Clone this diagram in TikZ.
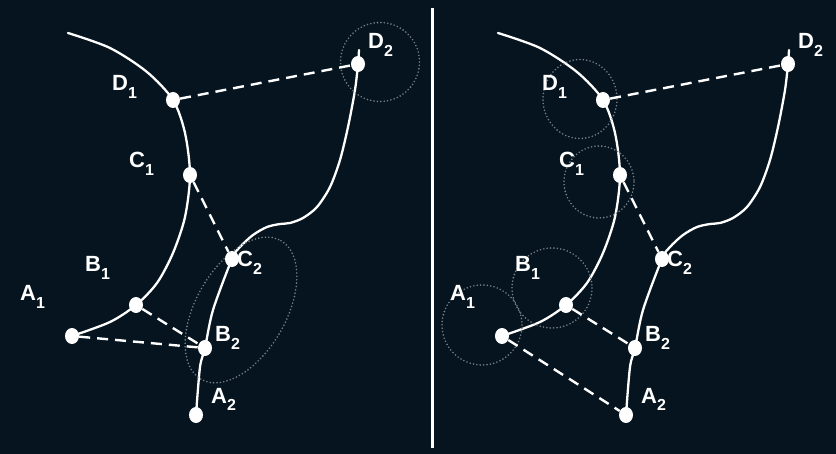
\documentclass[tikz,border=0pt]{standalone}
\usepackage{fontspec}
\setmainfont{Liberation Sans}
\usetikzlibrary{shapes.geometric}
\definecolor{bgcol}{HTML}{05141E}
\definecolor{ringcol}{HTML}{737E88}
\pgfdeclarelayer{back}
\pgfdeclarelayer{under}
\pgfsetlayers{back,under,main}
\tikzset{
  curve/.style={white, line width=2.3pt, line cap=round},
  link/.style={white, line width=2.4pt, dash pattern=on 11pt off 7pt},
  dot/.style={ellipse, fill=white, minimum width=14pt, minimum height=16pt, inner sep=0pt},
  halo/.style={draw=ringcol, line width=1.8pt, line cap=round, dash pattern=on 0pt off 3.4pt},
  lab/.style={text=white, font=\fontsize{22}{24}\selectfont\bfseries, anchor=base west, inner sep=0pt}
}
\newcommand\sub[1]{\raisebox{-7.5pt}{\fontsize{16}{16}\selectfont\bfseries #1}}
\newcommand\panel{%
  \node[dot] (A1) at (72,336) {};
  \node[dot] (B1) at (136,305) {};
  \node[dot] (C1) at (190,175) {};
  \node[dot] (D1) at (173,100) {};
  \node[dot] (A2) at (196,415) {};
  \node[dot] (B2) at (205,348) {};
  \node[dot] (C2) at (232,259) {};
  \node[dot] (D2) at (358,64) {};
  \node[lab] (tA1) at (20,301) {A\sub{1}};
  \node[lab] (tB1) at (85,272) {B\sub{1}};
  \node[lab] (tC1) at (129,168) {C\sub{1}};
  \node[lab] (tD1) at (112,91) {D\sub{1}};
  \node[lab] (tA2) at (211,403) {A\sub{2}};
  \node[lab] (tB2) at (215,342) {B\sub{2}};
  \node[lab] (tC2) at (237,267) {C\sub{2}};
  \node[lab] (tD2) at (368,49) {D\sub{2}};
  \begin{pgfonlayer}{under}
    \draw[curve] plot[smooth] coordinates {(68,33) (110,48) (147,72) (D1.center) (185,133) (C1.center) (185,217) (173,253) (157,283) (B1.center) (110,322) (A1.center)};
    \draw[curve] plot[smooth] coordinates {(A2.center) (200,367) (B2.center) (213,310) (C2.center) (240,247) (253,235) (267,227) (280,224) (290,223) (303,218) (317,207) (330,187) (340,160) (348,127) (355,90) (D2.center) (359,50)};
  \end{pgfonlayer}
}
\begin{document}
\begin{tikzpicture}[x=1pt, y=-1pt]
  \begin{pgfonlayer}{back}
    \fill[bgcol] (0,0) rectangle (836,454);
  \end{pgfonlayer}
  \useasboundingbox (0,0) rectangle (836,454);
  \coordinate (divtop) at (432,8);
  \coordinate (divbot) at (432,448);
  \draw[white, line width=3pt] (divtop) -- (divbot);
  % left panel
  \begin{scope}[name prefix=l]
    \panel
    \begin{pgfonlayer}{under}
      \draw[halo] (380,62) circle[radius=39.5];
      \draw[halo] (241,310) ellipse[x radius=80, y radius=45, rotate=60];
      \draw[link] (D1) -- (D2);
      \draw[link] (C1) -- (C2);
      \draw[link] (B1) -- (B2);
      \draw[link] (A1) -- (B2);
    \end{pgfonlayer}
  \end{scope}
  % right panel
  \begin{scope}[xshift=430pt, name prefix=r]
    \panel
    \begin{pgfonlayer}{under}
      \draw[halo] (150,99) ellipse[x radius=37, y radius=39.5];
      \draw[halo] (169,182) ellipse[x radius=35, y radius=36];
      \draw[halo] (122,288) circle[radius=40];
      \draw[halo] (52,325) circle[radius=40];
      \draw[link] (D1) -- (D2);
      \draw[link] (C1) -- (C2);
      \draw[link] (B1) -- (B2);
      \draw[link] (A1) -- (A2);
    \end{pgfonlayer}
  \end{scope}
\end{tikzpicture}
\end{document}
